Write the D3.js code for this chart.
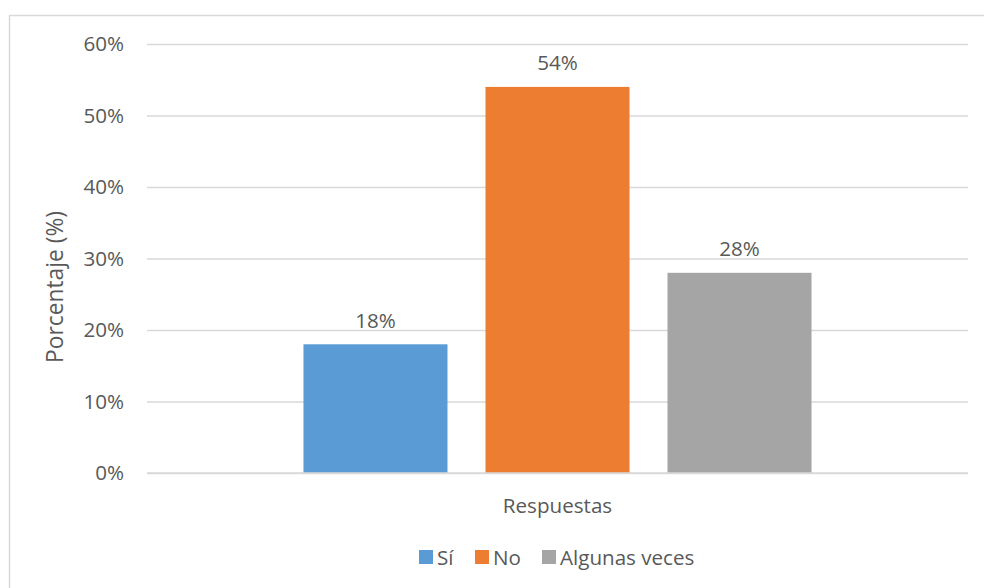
<!DOCTYPE html>
<html>
<head>
<meta charset="utf-8">
<script src="https://cdn.jsdelivr.net/npm/d3@7/dist/d3.min.js"></script>
<style>
  html, body { margin: 0; padding: 0; background: #fff; }
  svg { display: block; }
  text { font-family: "Open Sans", sans-serif; fill: #595959; }
</style>
</head>
<body>
<svg id="chart" width="984" height="588"></svg>
<script>
const categories = ["Respuestas"];
const seriesNames = ["Sí", "No", "Algunas veces"];
const seriesValues = [0.18, 0.54, 0.28];
const seriesColors = ["#5B9BD5", "#ED7D31", "#A5A5A5"];
const yTicks = [0, 0.1, 0.2, 0.3, 0.4, 0.5, 0.6];
const yTitle = "Porcentaje (%)";

const svg = d3.select("#chart");
const W = 984, H = 588;
const FS = 20.6;
const FS_TITLE = 22.8;

// chart border (only top/left visible within the frame)
svg.append("rect")
  .attr("x", 9.5).attr("y", 15.5)
  .attr("width", W + 20).attr("height", H + 20)
  .attr("fill", "none").attr("stroke", "#D9D9D9").attr("stroke-width", 1.5);

const plot = { left: 147, right: 968, top: 44, bottom: 473 };

const y = d3.scaleLinear().domain([0, 0.6]).range([plot.bottom, plot.top]);

const x0 = d3.scaleBand().domain(categories)
  .range([plot.left, plot.right]).paddingInner(0).paddingOuter(0.308);
const x1 = d3.scaleBand().domain(seriesNames)
  .range([0, x0.bandwidth()]).paddingInner(38 / 182).paddingOuter(0);

// gridlines
const yAxis = d3.axisLeft(y).tickValues(yTicks)
  .tickFormat(d3.format(".0%"))
  .tickSize(-(plot.right - plot.left)).tickPadding(23);
const gy = svg.append("g").attr("transform", `translate(${plot.left},0)`).call(yAxis);
gy.select(".domain").remove();
gy.selectAll(".tick line").attr("stroke", "#D9D9D9").attr("stroke-width", 1.3);
gy.selectAll(".tick text")
  .attr("font-size", FS).attr("fill", "#595959")
  .style("font-family", '"Open Sans", sans-serif');

// bars
const g = svg.append("g");
categories.forEach(cat => {
  seriesNames.forEach((s, i) => {
    const bx = x0(cat) + x1(s);
    g.append("rect")
      .attr("x", bx).attr("y", y(seriesValues[i]))
      .attr("width", x1.bandwidth())
      .attr("height", y(0) - y(seriesValues[i]))
      .attr("fill", seriesColors[i]);
    g.append("text")
      .attr("x", bx + x1.bandwidth() / 2)
      .attr("y", y(seriesValues[i]) - 16.5)
      .attr("text-anchor", "middle")
      .attr("font-size", FS)
      .text(d3.format(".0%")(seriesValues[i]));
  });
});

// baseline
svg.append("line")
  .attr("x1", plot.left).attr("x2", plot.right)
  .attr("y1", y(0)).attr("y2", y(0))
  .attr("stroke", "#D9D9D9").attr("stroke-width", 1.5);

// x category label
svg.append("text")
  .attr("x", x0(categories[0]) + x0.bandwidth() / 2)
  .attr("y", 513)
  .attr("text-anchor", "middle")
  .attr("font-size", FS)
  .text(categories[0]);

// y title
svg.append("text")
  .attr("transform", "translate(63,287) rotate(-90)")
  .attr("text-anchor", "middle")
  .attr("font-size", FS_TITLE)
  .text(yTitle);

// legend
const legendX = [419, 475, 542];
const lg = svg.append("g");
seriesNames.forEach((s, i) => {
  lg.append("rect")
    .attr("x", legendX[i]).attr("y", 550)
    .attr("width", 14).attr("height", 14)
    .attr("fill", seriesColors[i]);
  lg.append("text")
    .attr("x", legendX[i] + 18).attr("y", 564.5)
    .attr("font-size", FS)
    .text(s);
});
</script>
</body>
</html>
